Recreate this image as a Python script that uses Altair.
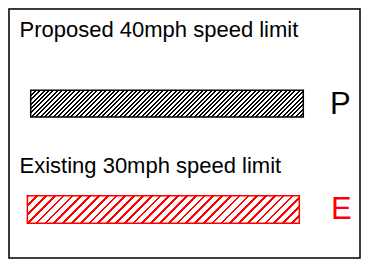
import altair as alt
import pandas as pd

# ---- data -------------------------------------------------------------
codes = ["P", "E"]
labels = ["Proposed 40mph speed limit", "Existing 30mph speed limit"]
colors = ["#000000", "#ff0000"]

df = pd.DataFrame({"code": codes, "label": labels, "color": colors})

FONT = "Liberation Sans"
W, H = 353, 251


def hatch(color, period, dark, w, h):
    """Diagonal '/' hatching built as a sharp-stop linear gradient."""
    S = w + h
    k = (w + h) / (w + h * h / w)
    stops = []
    s = 0.0
    last = 0.0
    while s < S:
        a = round(s / S, 5)
        b = round(min((s + dark) / S, 1.0), 5)
        a = max(a, last)
        b = max(b, a)
        stops += [
            alt.GradientStop(color="#ffffff", offset=a),
            alt.GradientStop(color=color, offset=a),
            alt.GradientStop(color=color, offset=b),
            alt.GradientStop(color="#ffffff", offset=b),
        ]
        last = b
        s += period
    return alt.LinearGradient(gradient="linear", stops=stops,
                              x1=0, y1=0, x2=k, y2=k * h / w)


# layout per item: label position, bar box, code letter position, hatch style
layout = {
    "P": dict(lx=11.5, ly=28.7, bx=22.7, bx2=295.3, by=82.2, by2=109.0,
              cx=322, cy=106, period=4.4, dark=2.0),
    "E": dict(lx=11.5, ly=164.5, bx=19.4, bx2=291.3, by=187.7, by2=215.3,
              cx=323, cy=211, period=8.8, dark=2.7),
}

layers = []
for code, color in zip(codes, colors):
    L = layout[code]
    base = alt.Chart(df).transform_filter(alt.datum.code == code)
    label = base.mark_text(align="left", baseline="alphabetic", font=FONT,
                           fontSize=22, color="#000000").encode(
        x=alt.value(L["lx"]), y=alt.value(L["ly"]), text="label:N")
    bw = L["bx2"] - L["bx"]
    bh = L["by2"] - L["by"]
    bar = base.mark_rect(
        fill=hatch(color, L["period"], L["dark"], bw, bh),
        stroke=color, strokeWidth=1.5,
    ).encode(x=alt.value(L["bx"]), x2=alt.value(L["bx2"]),
             y=alt.value(L["by"]), y2=alt.value(L["by2"]))
    letter = base.mark_text(align="left", baseline="alphabetic", font=FONT,
                            fontSize=31, color=color).encode(
        x=alt.value(L["cx"]), y=alt.value(L["cy"]), text="code:N")
    layers += [label, bar, letter]

border = alt.Chart(pd.DataFrame({"b": [0]})).mark_rect(
    fillOpacity=0, stroke="#000000", strokeWidth=1.5).encode(
    x=alt.value(1), x2=alt.value(W - 1), y=alt.value(1), y2=alt.value(H - 1))

chart = alt.layer(border, *layers).properties(
    width=W, height=H, padding=0,
    autosize=alt.AutoSizeParams(type="fit", contains="padding"),
).configure_view(stroke=None).configure(background="white")

chart.save("out.html", embed_options={"renderer": "svg", "actions": False})
